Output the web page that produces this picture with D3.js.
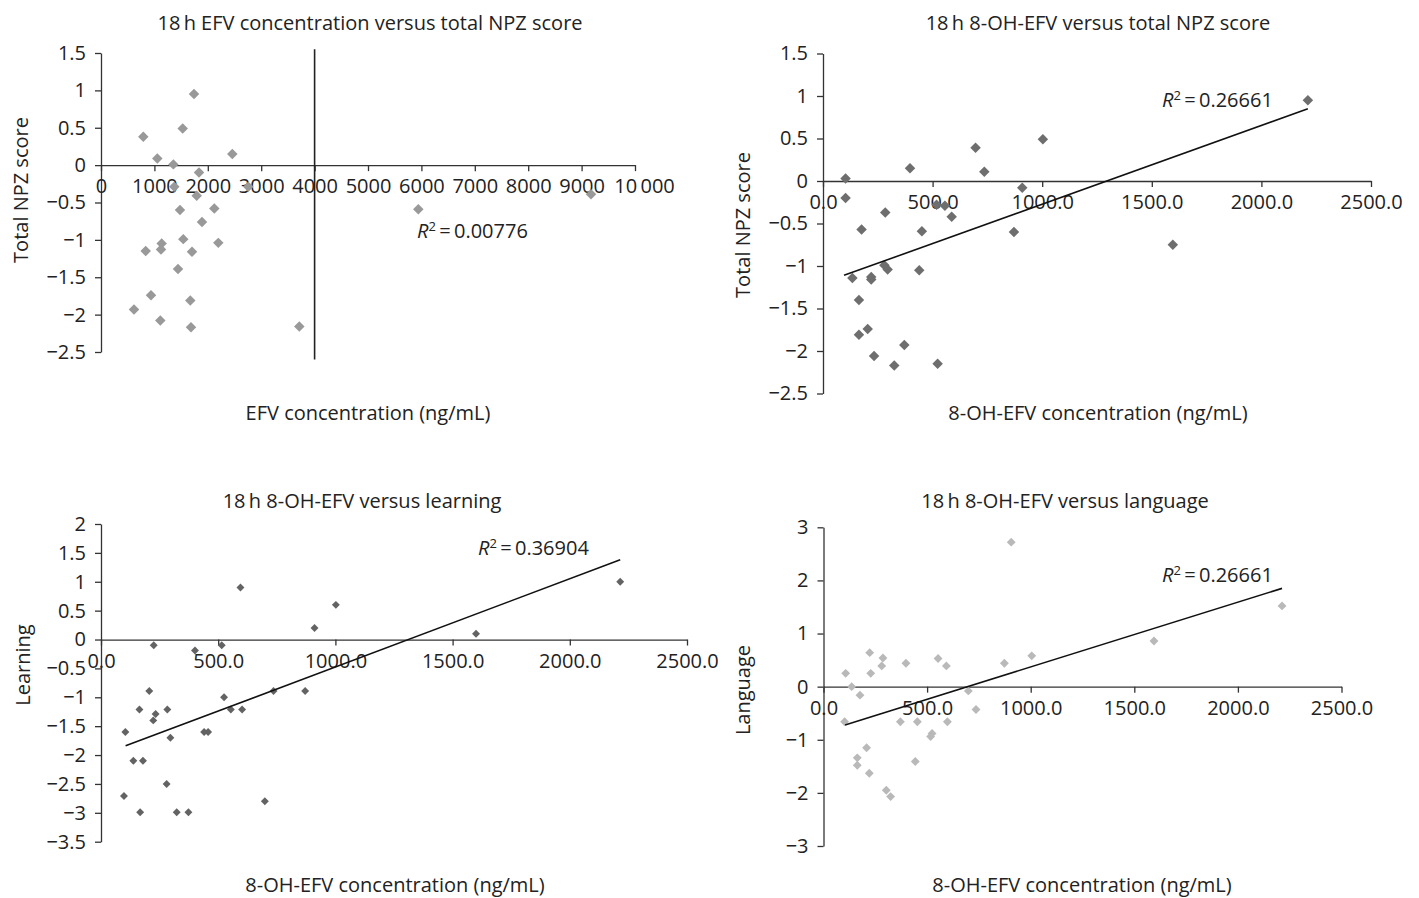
<!DOCTYPE html>
<html>
<head>
<meta charset="utf-8">
<script src="https://cdn.jsdelivr.net/npm/d3@7"></script>
<style>
  body { margin: 0; background: #fff; }
  svg text { font-family: "Open Sans", sans-serif; fill: #222; }
</style>
</head>
<body>
<svg id="chart" width="1419" height="898"></svg>
<script>
// values
var efvConc = [1742, 1530, 792, 1055, 1355, 2459, 1835, 1373, 1792, 2759, 1479, 2122, 1891, 1541,
  2197, 1136, 1124, 837, 1704, 1442, 936, 1672, 618, 1111, 1685, 3714, 5942, 9176];
var efvNpz = [0.95, 0.49, 0.38, 0.09, 0.01, 0.15, -0.10, -0.29, -0.41, -0.29, -0.60, -0.58, -0.76, -0.99,
  -1.04, -1.05, -1.13, -1.15, -1.16, -1.39, -1.74, -1.81, -1.93, -2.08, -2.17, -2.16, -0.59, -0.39];
var efvVLine = [4000, 1.55, -2.6];

var ohNpzConc = [103, 103, 397, 696, 736, 1003, 909, 284, 176, 518, 556, 587, 451, 871, 280,
  295, 439, 134, 220, 220, 164, 164, 204, 371, 233, 325, 523, 1596, 2212];
var ohNpz = [0.03, -0.20, 0.15, 0.39, 0.11, 0.49, -0.08, -0.37, -0.57, -0.28, -0.29, -0.42, -0.59, -0.60, -0.99,
  -1.04, -1.05, -1.14, -1.13, -1.16, -1.40, -1.81, -1.74, -1.93, -2.06, -2.17, -2.15, -0.75, 0.95];
var ohNpzTrend = [[96, -1.11], [2212, 0.85]];

var learnConc = [595, 1002, 911, 225, 401, 515, 206, 525, 736, 871, 164, 283, 554, 602, 233,
  223, 104, 440, 457, 296, 138, 179, 280, 98, 699, 167, 323, 373, 1600, 2215];
var learning = [0.90, 0.60, 0.20, -0.10, -0.19, -0.10, -0.89, -1.0, -0.89, -0.89, -1.21, -1.21, -1.21, -1.21, -1.29,
  -1.40, -1.60, -1.60, -1.60, -1.70, -2.10, -2.10, -2.50, -2.71, -2.80, -2.99, -2.99, -2.99, 0.10, 1.0];
var learnTrend = [[105, -1.84], [2215, 1.38]];

var langConc = [906, 1005, 873, 223, 287, 281, 398, 553, 593, 107, 228, 136, 176, 699, 736,
  102, 371, 453, 598, 524, 517, 208, 163, 163, 443, 221, 303, 324, 1595, 2213];
var language = [2.72, 0.58, 0.44, 0.64, 0.54, 0.39, 0.44, 0.53, 0.39, 0.25, 0.25, 0.0, -0.16, -0.08, -0.43,
  -0.66, -0.66, -0.66, -0.66, -0.88, -0.94, -1.15, -1.34, -1.48, -1.41, -1.63, -1.95, -2.07, 0.86, 1.52];
var langTrend = [[104, -0.72], [2213, 1.85]];

var npzTicks = [1.5, 1, 0.5, 0, -0.5, -1, -1.5, -2, -2.5];
var learnTicks = [2, 1.5, 1, 0.5, 0, -0.5, -1, -1.5, -2, -2.5, -3, -3.5];
var langTicks = [3, 2, 1, 0, -1, -2, -3];
var efvTicks = [0, 1000, 2000, 3000, 4000, 5000, 6000, 7000, 8000, 9000, 10000];
var ohTicks = [0, 500, 1000, 1500, 2000, 2500];

var svg = d3.select('#chart');
var FONT = 20;

function fmtY(v) {
  var s = String(Math.abs(v));
  return (v < 0 ? '\u2212' : '') + s;
}
function fmtEfv(v) {
  return v >= 10000 ? '10\u2009000' : String(v);
}
function fmtOh(v) {
  return v.toFixed(1);
}

function drawPanel(p) {
  var g = svg.append('g');
  var x = d3.scaleLinear().domain(p.xDomain).range(p.xRange);
  var y = d3.scaleLinear().domain(p.yDomain).range(p.yRange);

  var yAxis = d3.axisLeft(y).tickValues(p.yTicks).tickFormat(fmtY)
    .tickSize(6).tickSizeOuter(0).tickPadding(9);
  var gy = g.append('g').attr('transform', 'translate(' + x(0) + ',0)').call(yAxis);

  var xAxis = d3.axisBottom(x).tickValues(p.xTicks).tickFormat(p.xFormat)
    .tickSize(6).tickSizeOuter(0).tickPadding(8);
  var gx = g.append('g').attr('transform', 'translate(0,' + y(0) + ')').call(xAxis);

  [gx, gy].forEach(function (a) {
    a.selectAll('path, line').attr('stroke', '#333').attr('stroke-width', 1.3);
    a.selectAll('text').style('font-size', FONT + 'px').attr('fill', '#222');
  });
  // the widest label sits a little right of its tick in the original
  gx.selectAll('text').filter(function (d) { return d === 10000; }).attr('dx', 9);

  if (p.vline) {
    g.append('line')
      .attr('x1', x(p.vline[0])).attr('x2', x(p.vline[0]))
      .attr('y1', y(p.vline[1])).attr('y2', y(p.vline[2]))
      .attr('stroke', '#222').attr('stroke-width', 1.6);
  }

  var pts = p.xs.map(function (v, i) { return [v, p.ys[i]]; });
  var sym = d3.symbol().type(d3.symbolDiamond2).size(p.size);
  g.selectAll('path.pt').data(pts).enter().append('path')
    .attr('class', 'pt')
    .attr('d', sym)
    .attr('transform', function (d) { return 'translate(' + x(d[0]) + ',' + y(d[1]) + ')'; })
    .attr('fill', p.color);

  if (p.trend) {
    g.append('line')
      .attr('x1', x(p.trend[0][0])).attr('y1', y(p.trend[0][1]))
      .attr('x2', x(p.trend[1][0])).attr('y2', y(p.trend[1][1]))
      .attr('stroke', '#111').attr('stroke-width', 1.6);
  }

  // R squared label
  var t = g.append('text')
    .attr('x', p.r2Pos[0]).attr('y', p.r2Pos[1])
    .style('font-size', FONT + 'px');
  t.append('tspan').style('font-style', 'italic').text('R');
  t.append('tspan').attr('dy', -7).style('font-size', '13px').text('2');
  t.append('tspan').attr('dy', 7).text('\u2009=\u2009' + p.r2);

  g.append('text')
    .attr('x', p.titlePos[0]).attr('y', p.titlePos[1])
    .attr('text-anchor', 'middle').attr('dominant-baseline', 'central')
    .style('font-size', FONT + 'px').text(p.title);
  g.append('text')
    .attr('x', p.xLabelPos[0]).attr('y', p.xLabelPos[1])
    .attr('text-anchor', 'middle').attr('dominant-baseline', 'central')
    .style('font-size', FONT + 'px').text(p.xLabel);
  g.append('text')
    .attr('transform', 'translate(' + p.yLabelPos[0] + ',' + p.yLabelPos[1] + ') rotate(-90)')
    .attr('text-anchor', 'middle').attr('dominant-baseline', 'central')
    .style('font-size', FONT + 'px').text(p.yLabel);
}

drawPanel({
  xs: efvConc, ys: efvNpz, vline: efvVLine,
  xDomain: [0, 10000], xRange: [101, 635], yDomain: [-2.5, 1.5], yRange: [352, 53],
  xTicks: efvTicks, yTicks: npzTicks, xFormat: fmtEfv,
  color: '#999999', size: 70,
  r2: '0.00776', r2Pos: [417, 238],
  title: '18\u2009h EFV concentration versus total NPZ score', titlePos: [370, 22],
  xLabel: 'EFV concentration (ng/mL)', xLabelPos: [368, 412],
  yLabel: 'Total NPZ score', yLabelPos: [20, 190]
});

drawPanel({
  xs: ohNpzConc, ys: ohNpz, trend: ohNpzTrend,
  xDomain: [0, 2500], xRange: [823, 1371], yDomain: [-2.5, 1.5], yRange: [393.5, 53.5],
  xTicks: ohTicks, yTicks: npzTicks, xFormat: fmtOh,
  color: '#6e6e6e', size: 70,
  r2: '0.26661', r2Pos: [1162, 107],
  title: '18\u2009h 8-OH-EFV versus total NPZ score', titlePos: [1098, 22],
  xLabel: '8-OH-EFV concentration (ng/mL)', xLabelPos: [1098, 412],
  yLabel: 'Total NPZ score', yLabelPos: [742, 225]
});

drawPanel({
  xs: learnConc, ys: learning, trend: learnTrend,
  xDomain: [0, 2500], xRange: [101, 687], yDomain: [-3.5, 2], yRange: [841.7, 524],
  xTicks: ohTicks, yTicks: learnTicks, xFormat: fmtOh,
  color: '#636363', size: 40,
  r2: '0.36904', r2Pos: [478, 555],
  title: '18\u2009h 8-OH-EFV versus learning', titlePos: [362, 500],
  xLabel: '8-OH-EFV concentration (ng/mL)', xLabelPos: [395, 884],
  yLabel: 'Learning', yLabelPos: [22, 665]
});

drawPanel({
  xs: langConc, ys: language, trend: langTrend,
  xDomain: [0, 2500], xRange: [823.5, 1341.5], yDomain: [-3, 3], yRange: [846, 527.3],
  xTicks: ohTicks, yTicks: langTicks, xFormat: fmtOh,
  color: '#b9b9b9', size: 50,
  r2: '0.26661', r2Pos: [1162, 582],
  title: '18\u2009h 8-OH-EFV versus language', titlePos: [1065, 500],
  xLabel: '8-OH-EFV concentration (ng/mL)', xLabelPos: [1082, 884],
  yLabel: 'Language', yLabelPos: [742, 690]
});
</script>
</body>
</html>
